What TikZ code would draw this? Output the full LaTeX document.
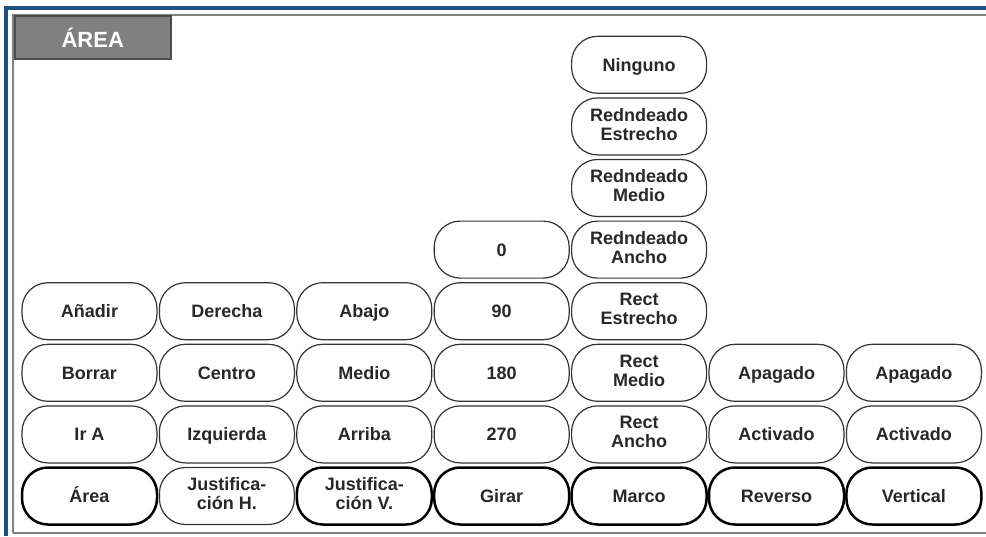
\documentclass[tikz,border=0pt]{standalone}
\usepackage{fontspec}
\setmainfont{Liberation Sans}
\definecolor{frameblue}{RGB}{28,80,128}
\definecolor{tabgray}{RGB}{128,128,128}
\definecolor{txtgray}{RGB}{40,40,40}
\newcommand{\btntop}{\rule{0pt}{17pt}}
\newcommand{\btnbot}{\rule[-4.2pt]{0pt}{4.2pt}}
\begin{document}
\begin{tikzpicture}[x=1pt,y=-1pt,
  btn/.style={draw=black!80, line width=1.2pt, rounded corners=26pt,
    minimum width=135pt, minimum height=57pt, inner sep=0pt, align=center,
    text=txtgray, font=\fontsize{18}{19}\selectfont\bfseries,
    execute at begin node={\btntop}, execute at end node={\btnbot}},
  btnbold/.style={btn, draw=black, line width=2.5pt}]
\useasboundingbox (0,0) rectangle (986,536);
\fill[white] (0,0) rectangle (986,536);
% frame
\draw[frameblue, line width=4pt] (6,536) -- (6,8) -- (986,8);
\draw[black!50, line width=2pt] (13,533) -- (13,15) -- (986,15);
\draw[black!50, line width=2pt] (13,533) -- (986,533);
% tab
\node[draw=black!70, line width=1.5pt, fill=tabgray, minimum width=156pt, minimum height=43pt,
  inner sep=0pt, anchor=north west, text=white, font=\fontsize{22}{22}\selectfont\bfseries]
  (tab) at (14,15) {ÁREA};
% buttons: x = 89.5 + 137.4 i ; y = 496 - 61.6 k
% column 0
\node[btnbold] (b00) at (89.5,496) {Área};
\node[btn] (b01) at (89.5,434.4) {Ir A};
\node[btn] (b02) at (89.5,372.8) {Borrar};
\node[btn] (b03) at (89.5,311.2) {Añadir};
% column 1
\node[btn] (b10) at (226.9,496) {Justifica-\\ción H.};
\node[btn] (b11) at (226.9,434.4) {Izquierda};
\node[btn] (b12) at (226.9,372.8) {Centro};
\node[btn] (b13) at (226.9,311.2) {Derecha};
% column 2
\node[btnbold] (b20) at (364.3,496) {Justifica-\\ción V.};
\node[btn] (b21) at (364.3,434.4) {Arriba};
\node[btn] (b22) at (364.3,372.8) {Medio};
\node[btn] (b23) at (364.3,311.2) {Abajo};
% column 3
\node[btnbold] (b30) at (501.7,496) {Girar};
\node[btn] (b31) at (501.7,434.4) {270};
\node[btn] (b32) at (501.7,372.8) {180};
\node[btn] (b33) at (501.7,311.2) {90};
\node[btn] (b34) at (501.7,249.6) {0};
% column 4
\node[btnbold] (b40) at (639.1,496) {Marco};
\node[btn] (b41) at (639.1,434.4) {Rect\\Ancho};
\node[btn] (b42) at (639.1,372.8) {Rect\\Medio};
\node[btn] (b43) at (639.1,311.2) {Rect\\Estrecho};
\node[btn] (b44) at (639.1,249.6) {Redndeado\\Ancho};
\node[btn] (b45) at (639.1,188.0) {Redndeado\\Medio};
\node[btn] (b46) at (639.1,126.4) {Redndeado\\Estrecho};
\node[btn] (b47) at (639.1,64.8) {Ninguno};
% column 5
\node[btnbold] (b50) at (776.5,496) {Reverso};
\node[btn] (b51) at (776.5,434.4) {Activado};
\node[btn] (b52) at (776.5,372.8) {Apagado};
% column 6
\node[btnbold] (b60) at (913.9,496) {Vertical};
\node[btn] (b61) at (913.9,434.4) {Activado};
\node[btn] (b62) at (913.9,372.8) {Apagado};
\end{tikzpicture}
\end{document}
